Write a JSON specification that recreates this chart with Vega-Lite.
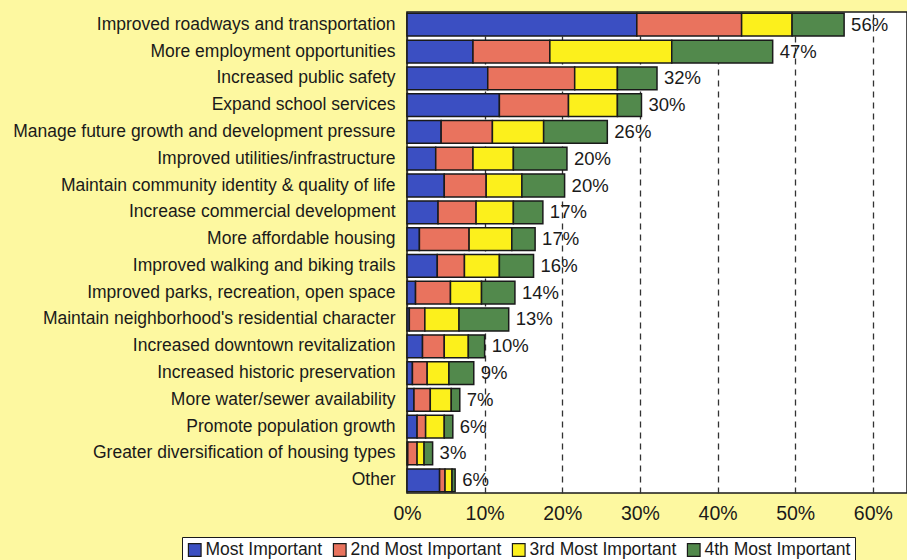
{
  "$schema": "https://vega.github.io/schema/vega-lite/v6.json",
  "autosize": {"type": "none"},
  "padding": {"left": 407, "top": 12, "right": 0, "bottom": 67},
  "width": 500,
  "height": 481,
  "background": "#FDF8A0",
  "config": {
    "view": {"fill": "white", "stroke": "#1a1a1a", "strokeWidth": 1.5},
    "font": "Liberation Sans"
  },
  "datasets": {
    "segments": [
      {"category": "Improved roadways and transportation", "rank": 1, "importance": "Most Important", "value": 29.6},
      {"category": "Improved roadways and transportation", "rank": 2, "importance": "2nd Most Important", "value": 13.5},
      {"category": "Improved roadways and transportation", "rank": 3, "importance": "3rd Most Important", "value": 6.5},
      {"category": "Improved roadways and transportation", "rank": 4, "importance": "4th Most Important", "value": 6.7},
      {"category": "More employment opportunities", "rank": 1, "importance": "Most Important", "value": 8.5},
      {"category": "More employment opportunities", "rank": 2, "importance": "2nd Most Important", "value": 9.9},
      {"category": "More employment opportunities", "rank": 3, "importance": "3rd Most Important", "value": 15.7},
      {"category": "More employment opportunities", "rank": 4, "importance": "4th Most Important", "value": 13.0},
      {"category": "Increased public safety", "rank": 1, "importance": "Most Important", "value": 10.4},
      {"category": "Increased public safety", "rank": 2, "importance": "2nd Most Important", "value": 11.2},
      {"category": "Increased public safety", "rank": 3, "importance": "3rd Most Important", "value": 5.5},
      {"category": "Increased public safety", "rank": 4, "importance": "4th Most Important", "value": 5.1},
      {"category": "Expand school services", "rank": 1, "importance": "Most Important", "value": 11.9},
      {"category": "Expand school services", "rank": 2, "importance": "2nd Most Important", "value": 8.9},
      {"category": "Expand school services", "rank": 3, "importance": "3rd Most Important", "value": 6.3},
      {"category": "Expand school services", "rank": 4, "importance": "4th Most Important", "value": 3.1},
      {"category": "Manage future growth and development pressure", "rank": 1, "importance": "Most Important", "value": 4.4},
      {"category": "Manage future growth and development pressure", "rank": 2, "importance": "2nd Most Important", "value": 6.6},
      {"category": "Manage future growth and development pressure", "rank": 3, "importance": "3rd Most Important", "value": 6.6},
      {"category": "Manage future growth and development pressure", "rank": 4, "importance": "4th Most Important", "value": 8.2},
      {"category": "Improved utilities/infrastructure", "rank": 1, "importance": "Most Important", "value": 3.7},
      {"category": "Improved utilities/infrastructure", "rank": 2, "importance": "2nd Most Important", "value": 4.8},
      {"category": "Improved utilities/infrastructure", "rank": 3, "importance": "3rd Most Important", "value": 5.2},
      {"category": "Improved utilities/infrastructure", "rank": 4, "importance": "4th Most Important", "value": 6.9},
      {"category": "Maintain community identity & quality of life", "rank": 1, "importance": "Most Important", "value": 4.8},
      {"category": "Maintain community identity & quality of life", "rank": 2, "importance": "2nd Most Important", "value": 5.4},
      {"category": "Maintain community identity & quality of life", "rank": 3, "importance": "3rd Most Important", "value": 4.6},
      {"category": "Maintain community identity & quality of life", "rank": 4, "importance": "4th Most Important", "value": 5.5},
      {"category": "Increase commercial development", "rank": 1, "importance": "Most Important", "value": 4.0},
      {"category": "Increase commercial development", "rank": 2, "importance": "2nd Most Important", "value": 4.9},
      {"category": "Increase commercial development", "rank": 3, "importance": "3rd Most Important", "value": 4.8},
      {"category": "Increase commercial development", "rank": 4, "importance": "4th Most Important", "value": 3.8},
      {"category": "More affordable housing", "rank": 1, "importance": "Most Important", "value": 1.6},
      {"category": "More affordable housing", "rank": 2, "importance": "2nd Most Important", "value": 6.4},
      {"category": "More affordable housing", "rank": 3, "importance": "3rd Most Important", "value": 5.5},
      {"category": "More affordable housing", "rank": 4, "importance": "4th Most Important", "value": 3.0},
      {"category": "Improved walking and biking trails", "rank": 1, "importance": "Most Important", "value": 3.9},
      {"category": "Improved walking and biking trails", "rank": 2, "importance": "2nd Most Important", "value": 3.5},
      {"category": "Improved walking and biking trails", "rank": 3, "importance": "3rd Most Important", "value": 4.5},
      {"category": "Improved walking and biking trails", "rank": 4, "importance": "4th Most Important", "value": 4.4},
      {"category": "Improved parks, recreation, open space", "rank": 1, "importance": "Most Important", "value": 1.1},
      {"category": "Improved parks, recreation, open space", "rank": 2, "importance": "2nd Most Important", "value": 4.5},
      {"category": "Improved parks, recreation, open space", "rank": 3, "importance": "3rd Most Important", "value": 4.0},
      {"category": "Improved parks, recreation, open space", "rank": 4, "importance": "4th Most Important", "value": 4.3},
      {"category": "Maintain neighborhood's residential character", "rank": 1, "importance": "Most Important", "value": 0.3},
      {"category": "Maintain neighborhood's residential character", "rank": 2, "importance": "2nd Most Important", "value": 2.0},
      {"category": "Maintain neighborhood's residential character", "rank": 3, "importance": "3rd Most Important", "value": 4.4},
      {"category": "Maintain neighborhood's residential character", "rank": 4, "importance": "4th Most Important", "value": 6.4},
      {"category": "Increased downtown revitalization", "rank": 1, "importance": "Most Important", "value": 2.0},
      {"category": "Increased downtown revitalization", "rank": 2, "importance": "2nd Most Important", "value": 2.8},
      {"category": "Increased downtown revitalization", "rank": 3, "importance": "3rd Most Important", "value": 3.1},
      {"category": "Increased downtown revitalization", "rank": 4, "importance": "4th Most Important", "value": 2.1},
      {"category": "Increased historic preservation", "rank": 1, "importance": "Most Important", "value": 0.7},
      {"category": "Increased historic preservation", "rank": 2, "importance": "2nd Most Important", "value": 1.9},
      {"category": "Increased historic preservation", "rank": 3, "importance": "3rd Most Important", "value": 2.8},
      {"category": "Increased historic preservation", "rank": 4, "importance": "4th Most Important", "value": 3.2},
      {"category": "More water/sewer availability", "rank": 1, "importance": "Most Important", "value": 0.9},
      {"category": "More water/sewer availability", "rank": 2, "importance": "2nd Most Important", "value": 2.1},
      {"category": "More water/sewer availability", "rank": 3, "importance": "3rd Most Important", "value": 2.7},
      {"category": "More water/sewer availability", "rank": 4, "importance": "4th Most Important", "value": 1.1},
      {"category": "Promote population growth", "rank": 1, "importance": "Most Important", "value": 1.3},
      {"category": "Promote population growth", "rank": 2, "importance": "2nd Most Important", "value": 1.1},
      {"category": "Promote population growth", "rank": 3, "importance": "3rd Most Important", "value": 2.4},
      {"category": "Promote population growth", "rank": 4, "importance": "4th Most Important", "value": 1.1},
      {"category": "Greater diversification of housing types", "rank": 1, "importance": "Most Important", "value": 0.1},
      {"category": "Greater diversification of housing types", "rank": 2, "importance": "2nd Most Important", "value": 1.2},
      {"category": "Greater diversification of housing types", "rank": 3, "importance": "3rd Most Important", "value": 0.9},
      {"category": "Greater diversification of housing types", "rank": 4, "importance": "4th Most Important", "value": 1.1},
      {"category": "Other", "rank": 1, "importance": "Most Important", "value": 4.2},
      {"category": "Other", "rank": 2, "importance": "2nd Most Important", "value": 0.7},
      {"category": "Other", "rank": 3, "importance": "3rd Most Important", "value": 0.9},
      {"category": "Other", "rank": 4, "importance": "4th Most Important", "value": 0.4}
    ],
    "labels": [
      {"category": "Improved roadways and transportation", "label": "56%"},
      {"category": "More employment opportunities", "label": "47%"},
      {"category": "Increased public safety", "label": "32%"},
      {"category": "Expand school services", "label": "30%"},
      {"category": "Manage future growth and development pressure", "label": "26%"},
      {"category": "Improved utilities/infrastructure", "label": "20%"},
      {"category": "Maintain community identity & quality of life", "label": "20%"},
      {"category": "Increase commercial development", "label": "17%"},
      {"category": "More affordable housing", "label": "17%"},
      {"category": "Improved walking and biking trails", "label": "16%"},
      {"category": "Improved parks, recreation, open space", "label": "14%"},
      {"category": "Maintain neighborhood's residential character", "label": "13%"},
      {"category": "Increased downtown revitalization", "label": "10%"},
      {"category": "Increased historic preservation", "label": "9%"},
      {"category": "More water/sewer availability", "label": "7%"},
      {"category": "Promote population growth", "label": "6%"},
      {"category": "Greater diversification of housing types", "label": "3%"},
      {"category": "Other", "label": "6%"}
    ]
  },
  "data": {"name": "segments"},
  "encoding": {
    "y": {
      "field": "category",
      "type": "nominal",
      "sort": null,
      "scale": {"paddingInner": 0.15, "paddingOuter": 0.05},
      "axis": {
        "title": null,
        "ticks": false,
        "domain": false,
        "labelPadding": 12,
        "labelFontSize": 17.5,
        "labelColor": "#1a1a1a",
        "labelLimit": 500
      }
    }
  },
  "layer": [
    {
      "mark": {"type": "bar", "stroke": "#1a1a1a", "strokeWidth": 1.5},
      "encoding": {
        "x": {
          "field": "value",
          "type": "quantitative",
          "stack": "zero",
          "scale": {"domain": [0, 64.4], "nice": false, "zero": true},
          "axis": {
            "title": null,
            "values": [0, 10, 20, 30, 40, 50, 60],
            "labelExpr": "datum.value + '%'",
            "ticks": false,
            "domain": false,
            "labelPadding": 11,
            "labelFontSize": 19.5,
            "labelColor": "#1a1a1a",
            "grid": true,
            "gridColor": "#333333",
            "gridWidth": 1.3,
            "gridDash": [6, 5],
            "labelFlush": false
          }
        },
        "color": {
          "field": "importance",
          "type": "nominal",
          "scale": {
            "domain": ["Most Important", "2nd Most Important", "3rd Most Important", "4th Most Important"],
            "range": ["#3B4FC2", "#E9735E", "#FCF01C", "#52894C"]
          },
          "legend": {
            "title": null,
            "orient": "none",
            "legendX": -225,
            "legendY": 525,
            "direction": "horizontal",
            "fillColor": "white",
            "strokeColor": "#1a1a1a",
            "padding": 4,
            "symbolType": "square",
            "symbolSize": 160,
            "symbolStrokeColor": "#1a1a1a",
            "symbolStrokeWidth": 1.2,
            "labelFontSize": 17.5,
            "labelColor": "#1a1a1a",
            "labelOffset": 2,
            "columnPadding": 8,
            "labelLimit": 300
          }
        },
        "order": {"field": "rank", "type": "quantitative", "sort": "ascending"}
      }
    },
    {
      "transform": [
        {"aggregate": [{"op": "sum", "field": "value", "as": "total"}], "groupby": ["category"]},
        {"lookup": "category", "from": {"data": {"name": "labels"}, "key": "category", "fields": ["label"]}}
      ],
      "mark": {"type": "text", "align": "left", "baseline": "middle", "dx": 7, "fontSize": 18.5, "color": "#1a1a1a"},
      "encoding": {
        "x": {"field": "total", "type": "quantitative"},
        "text": {"field": "label", "type": "nominal"}
      }
    }
  ]
}
